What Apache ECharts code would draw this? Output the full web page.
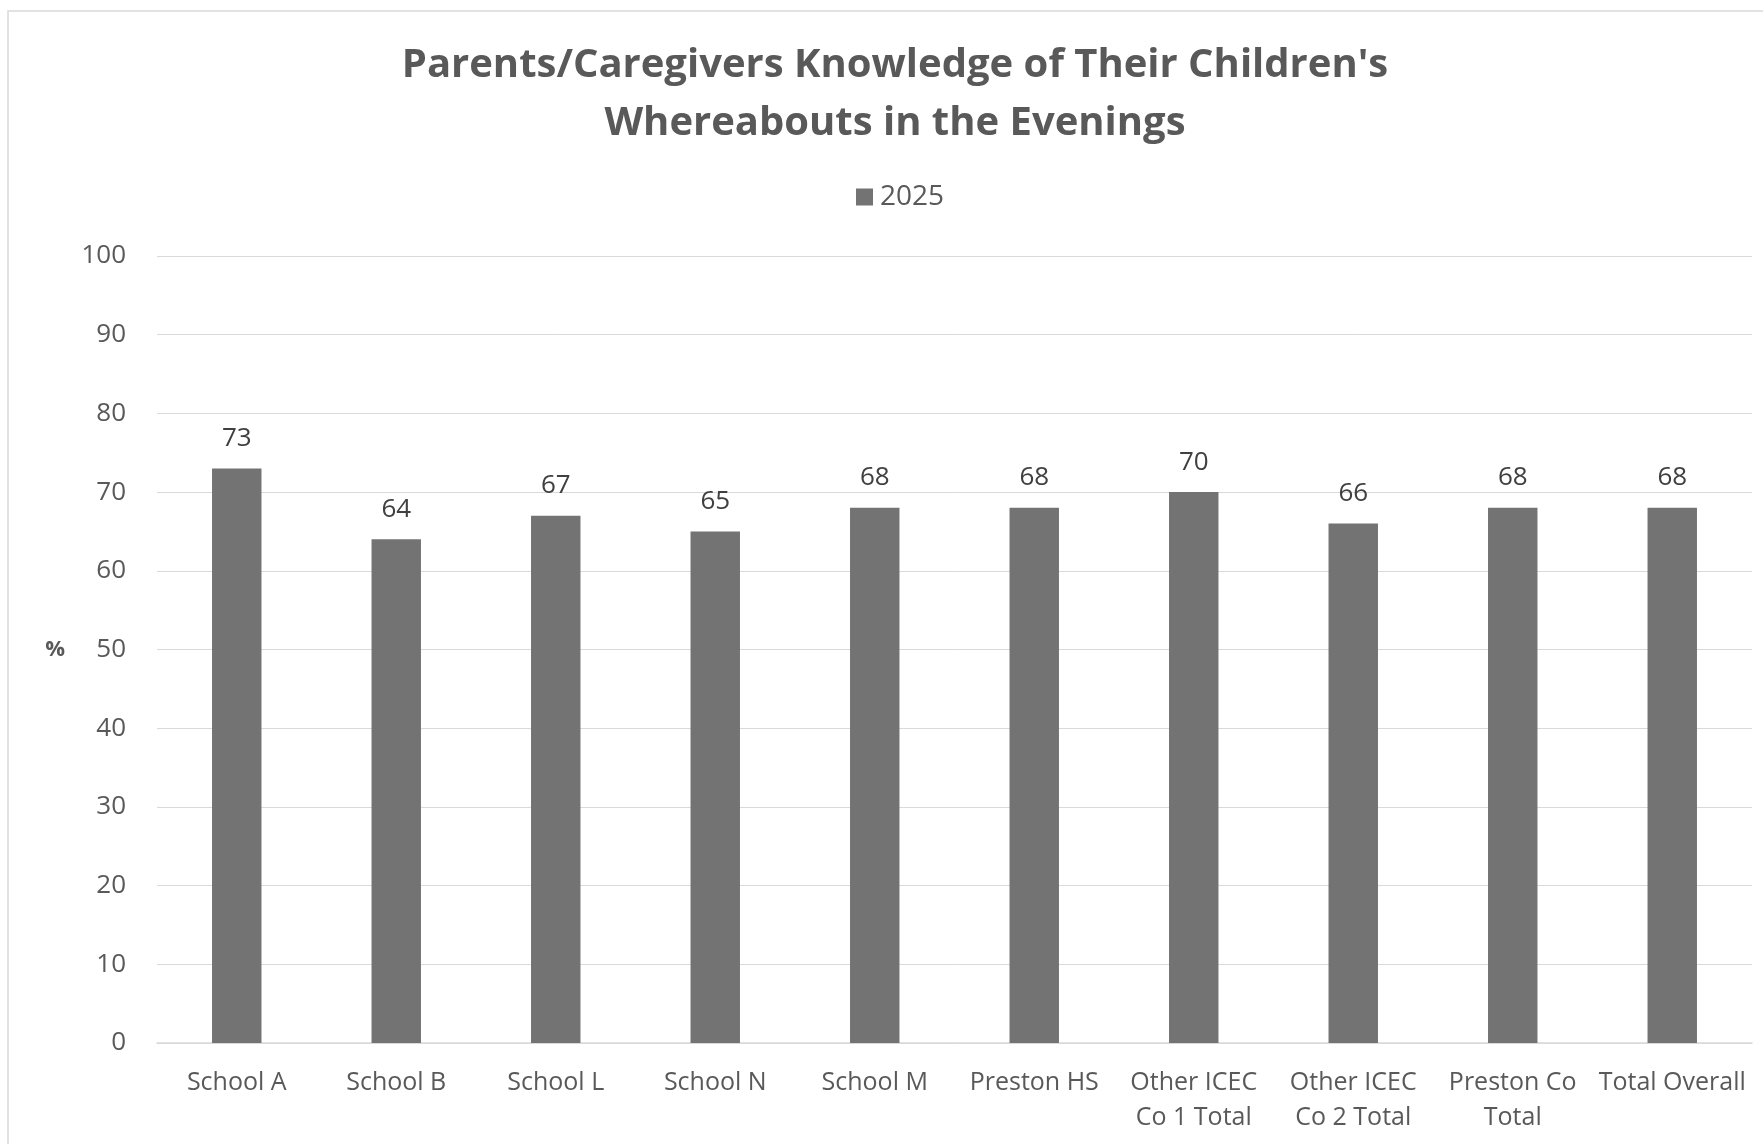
<!DOCTYPE html>
<html>
<head>
<meta charset="utf-8">
<script src="https://cdn.jsdelivr.net/npm/echarts@6/dist/echarts.min.js"></script>
<style>html,body{margin:0;padding:0;background:#fff;}#c{width:1763px;height:1144px;}</style>
</head>
<body>
<div id="c"></div>
<script>
var titleText = "Parents/Caregivers Knowledge of Their Children's\nWhereabouts in the Evenings";
var categories = ["School A", "School B", "School L", "School N", "School M", "Preston HS", "Other ICEC\nCo 1 Total", "Other ICEC\nCo 2 Total", "Preston Co\nTotal", "Total Overall"];
var seriesName = "2025";
var values = [73, 64, 67, 65, 68, 68, 70, 66, 68, 68];
var yTicks = {min: 0, max: 100, interval: 10};
var yName = "%";

var font = "'Open Sans', 'Noto Sans', sans-serif";
var chart = echarts.init(document.getElementById('c'));
chart.setOption({
  backgroundColor: '#ffffff',
  animation: false,
  graphic: [{
    type: 'rect', shape: {x: 8, y: 11, width: 1800, height: 1200},
    style: {fill: 'none', stroke: '#d9d9d9', lineWidth: 1.5}, silent: true, z: -1
  }],
  title: {
    text: titleText,
    left: 890, top: 32, textAlign: 'center',
    textStyle: {fontFamily: font, fontWeight: 'bold', fontSize: 40, color: '#595959', lineHeight: 58}
  },
  legend: {
    data: [seriesName], left: 851, top: 178, itemWidth: 17, itemHeight: 17, itemGap: 8,
    icon: 'rect',
    textStyle: {fontFamily: font, fontSize: 28, color: '#595959', padding: [0, 0, 0, 2]}
  },
  grid: {left: 157, right: 11, top: 256, bottom: 101, containLabel: false},
  xAxis: {
    type: 'category', data: categories,
    axisLine: {lineStyle: {color: '#d9d9d9', width: 1.5}},
    axisTick: {show: false},
    axisLabel: {fontFamily: font, fontSize: 25, color: '#595959', margin: 22, lineHeight: 35, interval: 0}
  },
  yAxis: {
    type: 'value', min: yTicks.min, max: yTicks.max, interval: yTicks.interval,
    name: yName, nameLocation: 'middle', nameRotate: 0, nameGap: 92,
    nameTextStyle: {fontFamily: font, fontSize: 22, fontWeight: 'bold', color: '#595959'},
    axisLine: {show: false}, axisTick: {show: false},
    splitLine: {lineStyle: {color: '#d9d9d9', width: 1}},
    axisLabel: {fontFamily: font, fontSize: 26, color: '#595959', margin: 31}
  },
  series: [{
    name: seriesName, type: 'bar', data: values, barWidth: '31%',
    itemStyle: {color: '#737373'},
    label: {show: true, position: 'top', distance: 17, fontFamily: font, fontSize: 26, color: '#404040'}
  }]
});
</script>
</body>
</html>
